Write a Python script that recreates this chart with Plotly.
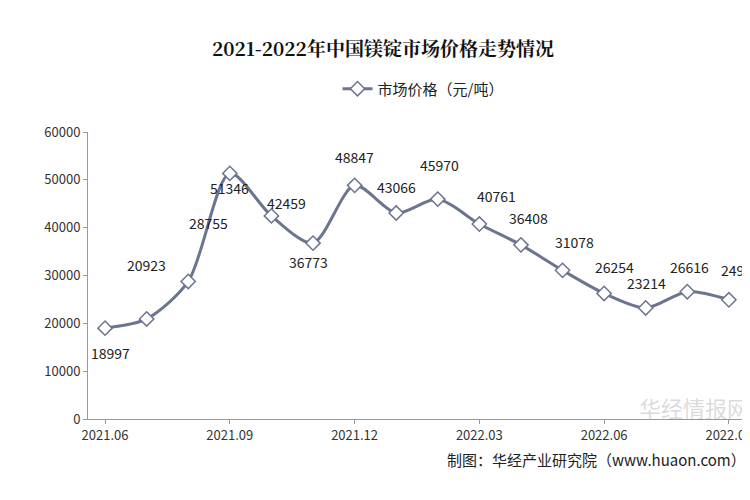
import plotly.graph_objects as go

months = ["2021.06","2021.07","2021.08","2021.09","2021.10","2021.11","2021.12","2022.01",
          "2022.02","2022.03","2022.04","2022.05","2022.06","2022.07","2022.08","2022.09"]
prices = [18997,20923,28755,51346,42459,36773,48847,43066,45970,40761,36408,31078,26254,23214,26616,24923]
labels = ["18997","20923","28755","51346","42459","36773","48847","43066","45970","40761","36408","31078","26254","23214","26616","2492"]
# label offsets in pixels (right, up)
label_dx = [5, 0, 20, 0, 15, -5, 0, 0, 2, 17, 8, 12, 10, 1, 2, 8]
label_dy = [-25, 54, 58, -15, 13, -19, 28, 26, 34, 28, 27, 28, 26, 25, 25, 30]
tick_idx = [0,3,6,9,12,15]
tick_text = ["2021.06","2021.09","2021.12","2022.03","2022.06","2022.09"]

x = list(range(len(months)))
font = "Noto Sans CJK SC"
fig = go.Figure(go.Scatter(
    x=x, y=prices, mode="lines+markers", name="市场价格（元/吨）",
    line=dict(color="#6b7590", width=3, shape="spline", smoothing=0.8),
    marker=dict(symbol="diamond", size=11, color="white", line=dict(color="#6b7590", width=1.5)),
    cliponaxis=False))
for xi, yi, t, dx, dy in zip(x, prices, labels, label_dx, label_dy):
    fig.add_annotation(x=xi, y=yi, text=t, showarrow=False, xshift=dx, yshift=dy,
                       font=dict(size=14, color="#222", family=font))
fig.update_layout(
    width=750, height=500, paper_bgcolor="white", plot_bgcolor="white",
    margin=dict(l=80, r=0, t=124, b=89),
    title=dict(text="<b>2021-2022年中国镁锭市场价格走势情况</b>", x=0.5, y=0.93, xanchor="center",
               font=dict(size=19, color="#111", family="Noto Serif CJK SC, " + font)),
    showlegend=True,
    legend=dict(orientation="h", x=0.5, xanchor="center", y=1.15, yanchor="middle",
                font=dict(size=15, color="#222", family=font)),
    font=dict(family=font),
    xaxis=dict(range=[-0.41, 15.7], tickvals=tick_idx, ticktext=tick_text, showgrid=False,
               showline=True, linecolor="#999", ticks="outside", ticklen=4, tickcolor="#999",
               tickfont=dict(size=13, color="#333"), automargin=False),
    yaxis=dict(range=[0, 60000], dtick=10000, tickformat="d", showgrid=False, showline=True,
               linecolor="#999", ticks="outside", ticklen=4, tickcolor="#999",
               tickfont=dict(size=13, color="#333"), automargin=False),
)
fig.add_annotation(text="华经情报网", xref="paper", yref="paper", x=0.99, y=-0.02,
                   xanchor="right", showarrow=False, font=dict(size=22, color="rgba(150,150,150,0.35)", family=font))
fig.add_annotation(text="制图：华经产业研究院（www.huaon.com）", xref="paper", yref="paper",
                   x=0.985, y=-0.14, xanchor="right", yanchor="middle", showarrow=False,
                   font=dict(size=15, color="#222", family=font))
fig.write_html("out.html")
